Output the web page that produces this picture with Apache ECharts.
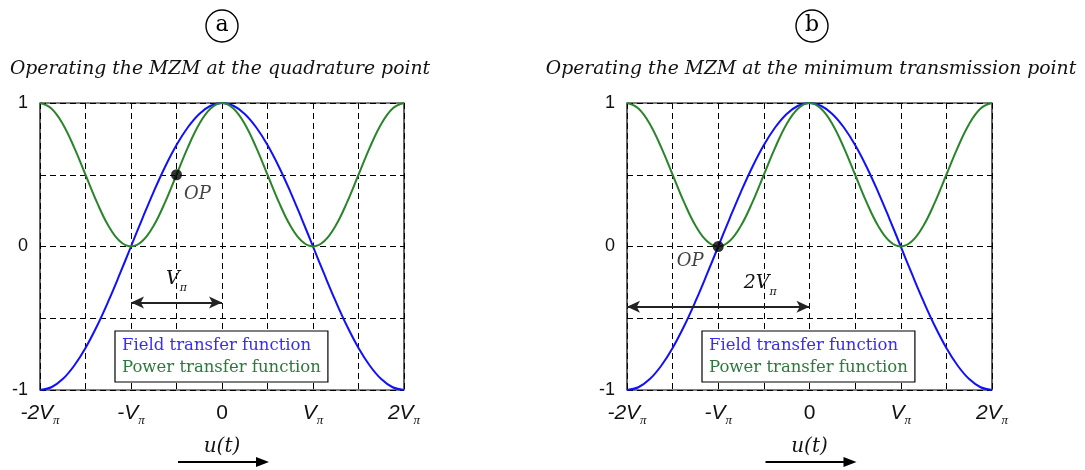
<!DOCTYPE html>
<html><head><meta charset="utf-8">
<script src="https://cdn.jsdelivr.net/npm/echarts@6/dist/echarts.min.js"></script>
<style>html,body{margin:0;padding:0;background:#fff}#c{width:1085px;height:470px}</style>
</head><body><div id="c"></div>
<script>
// ---- data ----
const uValues = [-2,-1.875,-1.75,-1.625,-1.5,-1.375,-1.25,-1.125,-1,-0.875,-0.75,-0.625,-0.5,-0.375,-0.25,-0.125,0,
  0.125,0.25,0.375,0.5,0.625,0.75,0.875,1,1.125,1.25,1.375,1.5,1.625,1.75,1.875,2];
const fieldValues = [-1,-0.981,-0.924,-0.831,-0.707,-0.556,-0.383,-0.195,0,0.195,0.383,0.556,0.707,0.831,0.924,0.981,1,
  0.981,0.924,0.831,0.707,0.556,0.383,0.195,0,-0.195,-0.383,-0.556,-0.707,-0.831,-0.924,-0.981,-1];
const powerValues = [1,0.962,0.854,0.691,0.5,0.309,0.146,0.038,0,0.038,0.146,0.309,0.5,0.691,0.854,0.962,1,
  0.962,0.854,0.691,0.5,0.309,0.146,0.038,0,0.038,0.146,0.309,0.5,0.691,0.854,0.962,1];
const xTickValues = [-2,-1,0,1,2];
const xTickMain = ['-2V','-V','0','V','2V'];
const xTickSub = ['π','π','','π','π'];
const yTickValues = [-1,0,1];
const yTickText = ['-1','0','1'];
const panelLetters = ['a','b'];
const panelTitles = ['Operating the MZM at the quadrature point','Operating the MZM at the minimum transmission point'];
const opPoints = [[-0.5,0.5],[-1,0]];
const spanArrows = [
  {from:-1, to:0, y:-0.39, main:'V', sub:'π'},
  {from:-2, to:0, y:-0.42, main:'2V', sub:'π'}
];
const seriesNames = ['Field transfer function','Power transfer function'];
const xName = 'u(t)';

// ---- layout / style ----
const BLUE = '#1010ff', GREEN = '#2a852a';
const grids = [
  {left:40, top:103, width:364, height:287},
  {left:627, top:103, width:365, height:287}
];
const centers = [222, 812];
const titleX = [220, 811];
const opOffsets = [[21,20],[-28,15]];
const spanLabelOffsets = [[0,0],[42,0]];
const legendLeft = [115, 702];

const fieldData = uValues.map((u,i)=>[u, fieldValues[i]]);
const powerData = uValues.map((u,i)=>[u, powerValues[i]]);

const subRich = {
  v:{fontFamily:'Liberation Sans', fontStyle:'italic', fontSize:21, color:'#111', verticalAlign:'bottom', lineHeight:24},
  s:{fontFamily:'Liberation Serif', fontStyle:'italic', fontSize:13, color:'#111', verticalAlign:'bottom', lineHeight:17, padding:[0,0,-3,0]},
  n:{fontFamily:'Liberation Sans', fontSize:21, color:'#111', verticalAlign:'bottom', lineHeight:24}
};
const annRich = {
  v:{fontFamily:'DejaVu Serif', fontStyle:'italic', fontSize:19, color:'#111', verticalAlign:'bottom', lineHeight:22},
  s:{fontFamily:'DejaVu Serif', fontStyle:'italic', fontSize:11, color:'#111', verticalAlign:'bottom', lineHeight:15, padding:[0,0,-5,0]}
};

const xAxes = [], yAxes = [], series = [], legends = [], graphics = [];
grids.forEach((g,k)=>{
  xAxes.push({
    type:'value', gridIndex:k, min:-2, max:2, interval:0.5,
    axisLine:{show:false}, axisTick:{show:true, inside:true, length:4, lineStyle:{color:'#000'}},
    splitLine:{show:true, lineStyle:{color:'#000', width:1, type:[6,4]}},
    axisLabel:{margin:10, rich:subRich, formatter:(v)=>{
      const i = xTickValues.indexOf(v);
      if (i<0) return '';
      if (!xTickSub[i]) return '{n|'+xTickMain[i]+'}';
      return '{v|'+xTickMain[i]+'}{s|'+xTickSub[i]+'}';
    }},
    name:xName, nameLocation:'middle', nameGap:47,
    nameTextStyle:{fontFamily:'DejaVu Serif', fontStyle:'italic', fontSize:20, color:'#111'}
  });
  yAxes.push({
    type:'value', gridIndex:k, min:-1, max:1, interval:0.5,
    axisLine:{show:false}, axisTick:{show:false},
    splitLine:{show:true, lineStyle:{color:'#000', width:1, type:[6,4]}},
    axisLabel:{margin:12, fontFamily:'Liberation Sans', fontSize:18, color:'#111', formatter:(v)=>{
      const i = yTickValues.indexOf(v);
      return i<0 ? '' : yTickText[i];
    }}
  });
  series.push({
    name:seriesNames[0], type:'line', xAxisIndex:k, yAxisIndex:k, data:fieldData,
    smooth:0.4, showSymbol:false, clip:false, lineStyle:{color:BLUE, width:2}, itemStyle:{color:BLUE},
    silent:true, z:3
  });
  series.push({
    name:seriesNames[1], type:'line', xAxisIndex:k, yAxisIndex:k, data:powerData,
    smooth:0.4, showSymbol:false, clip:false, lineStyle:{color:GREEN, width:2}, itemStyle:{color:GREEN},
    silent:true, z:3
  });
  const a = spanArrows[k];
  series.push({
    name:'OP', type:'scatter', xAxisIndex:k, yAxisIndex:k, data:[opPoints[k]],
    symbolSize:11, itemStyle:{color:'#000'}, z:5, silent:true, clip:false,
    label:{show:true, formatter:'OP', position:'inside', offset:opOffsets[k],
      fontFamily:'DejaVu Serif', fontStyle:'italic', fontSize:18, color:'#111'},
    markLine:{
      silent:true, symbol:['arrow','arrow'], symbolSize:[9,13], animation:false,
      lineStyle:{color:'#222', width:2, type:'solid'},
      label:{show:true, position:'middle', distance:14, offset:spanLabelOffsets[k], rich:annRich, formatter:'{v|'+a.main+'}{s|'+a.sub+'}'},
      data:[[{coord:[a.from, a.y]},{coord:[a.to, a.y]}]]
    }
  });
  legends.push({
    show:true, orient:'vertical', left:legendLeft[k], top:331, selectedMode:false,
    backgroundColor:'#fff', borderColor:'#000', borderWidth:1.2,
    padding:[6,7,6,2], itemGap:5, itemWidth:0, itemHeight:0, icon:'rect',
    textStyle:{fontFamily:'DejaVu Serif', fontSize:16.5},
    data:[
      {name:seriesNames[0], textStyle:{color:'#3a2cf0', fontFamily:'DejaVu Serif', fontSize:16.5}},
      {name:seriesNames[1], textStyle:{color:'#2a7a3a', fontFamily:'DejaVu Serif', fontSize:16.5}}
    ]
  });
  const cx = centers[k];
  graphics.push({type:'circle', shape:{cx:cx, cy:26, r:16}, style:{fill:'none', stroke:'#000', lineWidth:1.4}});
  graphics.push({type:'text', x:cx, y:25, style:{text:panelLetters[k], fontFamily:'DejaVu Serif', fontSize:22, fill:'#000', align:'center', verticalAlign:'middle'}});
  graphics.push({type:'text', x:titleX[k], y:69, style:{text:panelTitles[k], fontFamily:'DejaVu Serif', fontStyle:'italic', fontSize:18.8, fill:'#111', align:'center', verticalAlign:'middle'}});
  const ax = grids[k].left + grids[k].width/2;
  graphics.push({type:'line', shape:{x1:ax-44, y1:462, x2:ax+36, y2:462}, style:{stroke:'#000', lineWidth:2}});
  graphics.push({type:'polygon', shape:{points:[[ax+34,457],[ax+47,462],[ax+34,467]]}, style:{fill:'#000'}});
});

const chart = echarts.init(document.getElementById('c'), null, {renderer:'canvas'});
chart.setOption({
  animation:false,
  backgroundColor:'#fff',
  grid: grids.map(g=>Object.assign({show:true, borderColor:'#000', borderWidth:1.2, backgroundColor:'transparent', containLabel:false}, g)),
  xAxis:xAxes, yAxis:yAxes, series:series, legend:legends, graphic:graphics
});
</script></body></html>
